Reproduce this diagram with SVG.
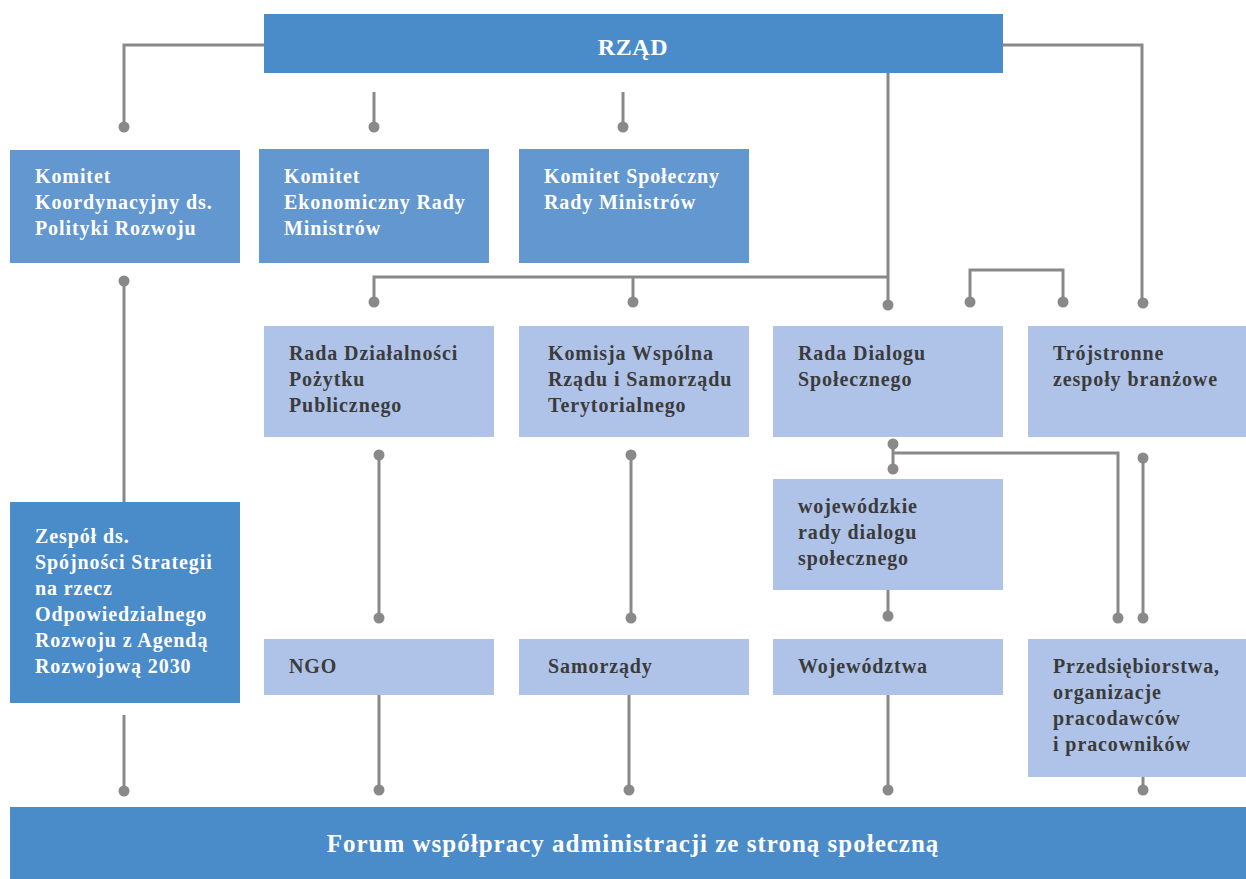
<svg xmlns="http://www.w3.org/2000/svg" width="1246" height="879" viewBox="0 0 1246 879">
<defs>
<style>
.dark{fill:#4A8BCA}
.mid{fill:#6297D0}
.light{fill:#AFC3E8}
text{font-family:"Liberation Serif","DejaVu Serif","Times New Roman",serif;font-weight:bold;font-size:20px;letter-spacing:0.9px}
.w{fill:#ffffff}
.g{fill:#3b3b3b}
.big{font-size:24px;letter-spacing:0.6px}
.forum{font-size:25px;letter-spacing:1px}
.ln{fill:none;stroke:#898989;stroke-width:3}
.dot{fill:#898989}
</style>
</defs>
<rect width="1246" height="879" fill="#ffffff"/>
<g id="connectors">
<path class="ln" d="M264,45 H124 V127"/>
<path class="ln" d="M1003,45 H1142 V303"/>
<path class="ln" d="M374,92 V127"/>
<path class="ln" d="M623,92 V127"/>
<path class="ln" d="M888,73 V305"/>
<path class="ln" d="M888,277 H374 V301"/>
<path class="ln" d="M633,277 V301"/>
<path class="ln" d="M970,302 V270 H1063 V302"/>
<path class="ln" d="M124,281 V502"/>
<path class="ln" d="M124,715 V791"/>
<path class="ln" d="M379,455 V618"/>
<path class="ln" d="M631,455 V618"/>
<path class="ln" d="M893,444 V469"/>
<path class="ln" d="M893,453 H1118 V618"/>
<path class="ln" d="M1143,458 V618"/>
<path class="ln" d="M888,590 V616"/>
<path class="ln" d="M379,695 V790"/>
<path class="ln" d="M629,695 V790"/>
<path class="ln" d="M888,695 V790"/>
<path class="ln" d="M1143,777 V790"/>
<circle class="dot" cx="124" cy="127" r="5.5"/>
<circle class="dot" cx="374" cy="127" r="5.5"/>
<circle class="dot" cx="623" cy="127" r="5.5"/>
<circle class="dot" cx="374" cy="302" r="5.5"/>
<circle class="dot" cx="633" cy="302" r="5.5"/>
<circle class="dot" cx="888" cy="305" r="5.5"/>
<circle class="dot" cx="970" cy="302" r="5.5"/>
<circle class="dot" cx="1063" cy="302" r="5.5"/>
<circle class="dot" cx="1143" cy="303" r="5.5"/>
<circle class="dot" cx="124" cy="281" r="5.5"/>
<circle class="dot" cx="379" cy="455" r="5.5"/>
<circle class="dot" cx="631" cy="455" r="5.5"/>
<circle class="dot" cx="893" cy="444" r="5.5"/>
<circle class="dot" cx="893" cy="469" r="5.5"/>
<circle class="dot" cx="1143" cy="458" r="5.5"/>
<circle class="dot" cx="379" cy="618" r="5.5"/>
<circle class="dot" cx="631" cy="618" r="5.5"/>
<circle class="dot" cx="888" cy="616" r="5.5"/>
<circle class="dot" cx="1118" cy="618" r="5.5"/>
<circle class="dot" cx="1143" cy="618" r="5.5"/>
<circle class="dot" cx="124" cy="791" r="5.5"/>
<circle class="dot" cx="379" cy="790" r="5.5"/>
<circle class="dot" cx="629" cy="790" r="5.5"/>
<circle class="dot" cx="888" cy="790" r="5.5"/>
<circle class="dot" cx="1143" cy="790" r="5.5"/>
</g>
<g id="rzad">
<rect class="dark" x="264" y="14" width="739" height="59"/>
<text class="w big" x="633" y="55" text-anchor="middle">RZĄD</text>
</g>
<g id="komitet-koordynacyjny">
<rect class="mid" x="10" y="150" width="230" height="113"/>
<text class="w" x="35" y="183">Komitet</text>
<text class="w" x="35" y="209">Koordynacyjny ds.</text>
<text class="w" x="35" y="235">Polityki Rozwoju</text>
</g>
<g id="komitet-ekonomiczny">
<rect class="mid" x="259" y="149" width="230" height="114"/>
<text class="w" x="284" y="183">Komitet</text>
<text class="w" x="284" y="209">Ekonomiczny Rady</text>
<text class="w" x="284" y="235">Ministrów</text>
</g>
<g id="komitet-spoleczny">
<rect class="mid" x="519" y="149" width="230" height="114"/>
<text class="w" x="544" y="183">Komitet Społeczny</text>
<text class="w" x="544" y="209">Rady Ministrów</text>
</g>
<g id="rada-dzialalnosci">
<rect class="light" x="264" y="326" width="230" height="111"/>
<text class="g" x="289" y="360">Rada Działalności</text>
<text class="g" x="289" y="386">Pożytku</text>
<text class="g" x="289" y="412">Publicznego</text>
</g>
<g id="komisja-wspolna">
<rect class="light" x="519" y="326" width="230" height="111"/>
<text class="g" x="548" y="360">Komisja Wspólna</text>
<text class="g" x="548" y="386">Rządu i Samorządu</text>
<text class="g" x="548" y="412">Terytorialnego</text>
</g>
<g id="rada-dialogu">
<rect class="light" x="773" y="326" width="230" height="111"/>
<text class="g" x="798" y="360">Rada Dialogu</text>
<text class="g" x="798" y="386">Społecznego</text>
</g>
<g id="trojstronne">
<rect class="light" x="1028" y="326" width="218" height="111"/>
<text class="g" x="1053" y="360">Trójstronne</text>
<text class="g" x="1053" y="386">zespoły branżowe</text>
</g>
<g id="wojewodzkie-rady">
<rect class="light" x="773" y="479" width="230" height="111"/>
<text class="g" x="798" y="513">wojewódzkie</text>
<text class="g" x="798" y="539">rady dialogu</text>
<text class="g" x="798" y="565">społecznego</text>
</g>
<g id="zespol">
<rect class="dark" x="10" y="502" width="230" height="201"/>
<text class="w" x="35" y="543">Zespół ds.</text>
<text class="w" x="35" y="569">Spójności Strategii</text>
<text class="w" x="35" y="595">na rzecz</text>
<text class="w" x="35" y="621">Odpowiedzialnego</text>
<text class="w" x="35" y="647">Rozwoju z Agendą</text>
<text class="w" x="35" y="673">Rozwojową 2030</text>
</g>
<g id="ngo">
<rect class="light" x="264" y="639" width="230" height="56"/>
<text class="g" x="289" y="673">NGO</text>
</g>
<g id="samorzady">
<rect class="light" x="519" y="639" width="230" height="56"/>
<text class="g" x="548" y="673">Samorządy</text>
</g>
<g id="wojewodztwa">
<rect class="light" x="773" y="639" width="230" height="56"/>
<text class="g" x="798" y="673">Województwa</text>
</g>
<g id="przedsiebiorstwa">
<rect class="light" x="1028" y="639" width="218" height="138"/>
<text class="g" x="1053" y="673">Przedsiębiorstwa,</text>
<text class="g" x="1053" y="699">organizacje</text>
<text class="g" x="1053" y="725">pracodawców</text>
<text class="g" x="1053" y="751">i pracowników</text>
</g>
<g id="forum">
<rect class="dark" x="10" y="807" width="1236" height="72"/>
<text class="w forum" x="633" y="852" text-anchor="middle">Forum współpracy administracji ze stroną społeczną</text>
</g>
</svg>
